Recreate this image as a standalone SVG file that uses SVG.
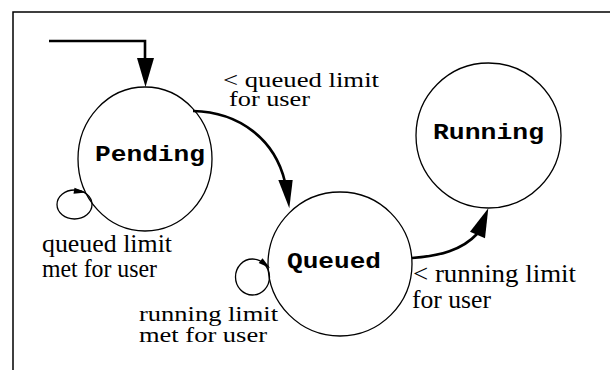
<svg xmlns="http://www.w3.org/2000/svg" width="610" height="370" viewBox="0 0 610 370">
<style>
.frame{fill:none;stroke:#000;stroke-width:1.5}
.state{fill:#fff;stroke:#000;stroke-width:1.3}
.conn{fill:none;stroke:#000;stroke-width:2.6}
.loop{fill:none;stroke:#000;stroke-width:1.3}
.head{fill:#000;stroke:none}
.name{font-weight:bold;fill:#000}
.lbl{fill:#000}
</style>
<rect width="610" height="370" fill="#fff"/>
<path class="frame" d="M13,370 V12 H610"/>
<g id="pending">
<ellipse class="state" cx="145" cy="159" rx="67" ry="72"/>
<text class="name" font-family="'Liberation Mono', 'Courier New', monospace" x="95" y="161" font-size="22" textLength="110" lengthAdjust="spacingAndGlyphs">Pending</text>
</g>
<g id="queued">
<circle class="state" cx="340" cy="264" r="72"/>
<text class="name" font-family="'Liberation Mono', 'Courier New', monospace" x="287" y="268" font-size="22" textLength="94" lengthAdjust="spacingAndGlyphs">Queued</text>
</g>
<g id="running">
<circle class="state" cx="488.5" cy="135.5" r="72.5"/>
<text class="name" font-family="'Liberation Mono', 'Courier New', monospace" x="433" y="139" font-size="22" textLength="111" lengthAdjust="spacingAndGlyphs">Running</text>
</g>
<g id="connectors">
<path class="conn" d="M49,41 H145 V60"/>
<polygon class="head" points="137,58 154,58 145.5,87"/>
<path class="conn" d="M193,111 C240,112 275,140 285,182"/>
<polygon class="head" points="278.3,180 292.7,180 289.3,208.3"/>
<path class="conn" d="M412,258 C440,256 462,250 477,234"/>
<polygon class="head" points="470,231.7 485,238.3 488.3,208.3"/>
<ellipse class="loop" cx="74.5" cy="204.5" rx="17.5" ry="14.5"/>
<polygon class="head" points="73.5,193.7 74.5,187.7 86,192.5"/>
<ellipse class="loop" cx="252.5" cy="277" rx="17" ry="18"/>
<polygon class="head" points="258.7,262.9 262.5,258.3 270,268"/>
</g>
<g id="labels" font-family="'Liberation Serif', 'Times New Roman', serif">
<text class="lbl" font-size="20" x="223" y="87" textLength="156" lengthAdjust="spacingAndGlyphs">&lt; queued limit</text>
<text class="lbl" font-size="20" x="229" y="106" textLength="81" lengthAdjust="spacingAndGlyphs">for user</text>
<text class="lbl" font-size="25" x="42" y="252" textLength="130" lengthAdjust="spacingAndGlyphs">queued limit</text>
<text class="lbl" font-size="25" x="42" y="277" textLength="115" lengthAdjust="spacingAndGlyphs">met for user</text>
<text class="lbl" font-size="25" x="413" y="282" textLength="163" lengthAdjust="spacingAndGlyphs">&lt; running limit</text>
<text class="lbl" font-size="25" x="412" y="308" textLength="79" lengthAdjust="spacingAndGlyphs">for user</text>
<text class="lbl" font-size="21" x="139" y="321" textLength="139" lengthAdjust="spacingAndGlyphs">running limit</text>
<text class="lbl" font-size="21" x="139" y="342" textLength="128" lengthAdjust="spacingAndGlyphs">met for user</text>
</g>
</svg>
